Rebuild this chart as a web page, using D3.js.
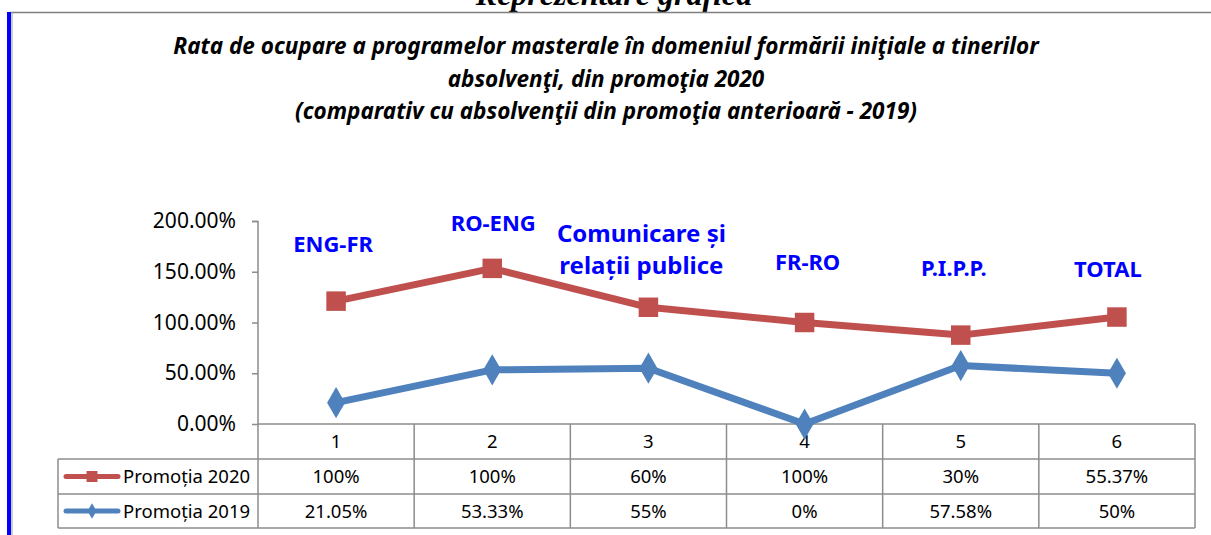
<!DOCTYPE html>
<head>
<meta charset="utf-8">
<script src="https://cdn.jsdelivr.net/npm/d3@7"></script>
<style>
body { margin: 0; background: #fff; }
text { font-family: "Noto Sans", "Open Sans", sans-serif; }
</style>
</head>
<body>
<script>
// data
var categories = ["1", "2", "3", "4", "5", "6"];
var programs = [["ENG-FR"], ["RO-ENG"], ["Comunicare și", "relații publice"], ["FR-RO"], ["P.I.P.P."], ["TOTAL"]];
var p2019 = [0.2105, 0.5333, 0.55, 0, 0.5758, 0.50];
var p2020 = [1.00, 1.00, 0.60, 1.00, 0.30, 0.5537];
var label2019 = ["21.05%", "53.33%", "55%", "0%", "57.58%", "50%"];
var label2020 = ["100%", "100%", "60%", "100%", "30%", "55.37%"];
var yTicks = [0, 0.5, 1, 1.5, 2];
var titleLines = ["Rata de ocupare a programelor masterale în domeniul formării iniţiale a tinerilor",
  "absolvenţi, din promoţia 2020",
  "(comparativ cu absolvenţii din promoţia anterioară - 2019)"];

var width = 1211, height = 535;
var red = "#C0504D", blue = "#4F81BD", grid = "#8c8c8c";

var svg = d3.select("body").append("svg")
  .attr("width", width)
  .attr("height", height);
svg.append("rect").attr("width", width).attr("height", height).attr("fill", "#fff");

// page decoration: cut heading, top rule, blue left bar
svg.append("text").attr("x", 614).attr("y", 5).attr("text-anchor", "middle")
  .style("font-family", "'Liberation Serif', serif").style("font-weight", "bold")
  .style("font-style", "italic").style("font-size", "32px")
  .text("Reprezentare grafică");
svg.append("line").attr("x1", 10).attr("x2", width).attr("y1", 12.5).attr("y2", 12.5)
  .attr("stroke", "#7f7f7f").attr("stroke-width", 1.5);
svg.append("rect").attr("x", 7).attr("y", 12).attr("width", 4).attr("height", height - 12).attr("fill", "#0000ff");
svg.append("line").attr("x1", 12).attr("x2", 12).attr("y1", 12).attr("y2", height)
  .attr("stroke", "#9a9a9a").attr("stroke-width", 1);

// chart title
svg.append("g").selectAll("text").data(titleLines).enter().append("text")
  .attr("x", 606).attr("y", function(d, i) { return 54 + i * 32.5; })
  .attr("text-anchor", "middle")
  .style("font-weight", "bold").style("font-style", "italic").style("font-size", "22.5px")
  .text(function(d) { return d; });

// scales
var x = d3.scaleBand().domain(categories).range([258, 1195]);
var y = d3.scaleLinear().domain([0, 2]).range([424, 221]);

// stacked line: 2020 sits on top of 2019
var rows = categories.map(function(c, i) { return {cat: c, p2019: p2019[i], p2020: p2020[i]}; });
var stacked = d3.stack().keys(["p2019", "p2020"])(rows);

// y axis
var yAxis = svg.append("g").attr("transform", "translate(258,0)")
  .call(d3.axisLeft(y).tickValues(yTicks).tickFormat(d3.format(".2%")).tickSize(6).tickPadding(16));
yAxis.select(".domain").attr("stroke", grid).attr("stroke-width", 1.5).attr("d", "M-6,221.5H0V424");
yAxis.selectAll(".tick line").attr("stroke", grid).attr("stroke-width", 1.5);
yAxis.selectAll(".tick text").attr("fill", "#000").style("font-size", "21px")
  .style("font-family", "'Noto Sans', sans-serif");

// data table
var tableLeft = 58, tableRight = 1195;
var rowY = [424, 459, 494, 528];
var tg = svg.append("g").attr("stroke", grid).attr("stroke-width", 1.5);
tg.append("line").attr("x1", 258).attr("x2", tableRight).attr("y1", rowY[0]).attr("y2", rowY[0]);
[1, 2, 3].forEach(function(r) {
  tg.append("line").attr("x1", tableLeft).attr("x2", tableRight).attr("y1", rowY[r]).attr("y2", rowY[r]);
});
tg.append("line").attr("x1", tableLeft).attr("x2", tableLeft).attr("y1", rowY[1]).attr("y2", rowY[3]);
tg.selectAll("line.col").data(categories).enter().append("line")
  .attr("x1", function(d) { return x(d); }).attr("x2", function(d) { return x(d); })
  .attr("y1", rowY[0]).attr("y2", rowY[3]);
tg.append("line").attr("x1", tableRight).attr("x2", tableRight).attr("y1", rowY[0]).attr("y2", rowY[3]);

var cellText = function(row, labels) {
  svg.append("g").selectAll("text").data(labels).enter().append("text")
    .attr("x", function(d, i) { return x(categories[i]) + x.bandwidth() / 2; })
    .attr("y", (rowY[row] + rowY[row + 1]) / 2 + 6.5)
    .attr("text-anchor", "middle").style("font-size", "18.5px")
    .text(function(d) { return d; });
};
cellText(0, categories);
cellText(1, label2020);
cellText(2, label2019);

// legend keys in table
var legend = [{name: "Promoția 2020", color: red, shape: d3.symbolSquare, size: 120, row: 1},
  {name: "Promoția 2019", color: blue, shape: d3.symbolDiamond, size: 70, row: 2}];
legend.forEach(function(l) {
  var cy = (rowY[l.row] + rowY[l.row + 1]) / 2;
  svg.append("line").attr("x1", 66).attr("x2", 118).attr("y1", cy).attr("y2", cy)
    .attr("stroke", l.color).attr("stroke-width", 5).attr("stroke-linecap", "round");
  svg.append("path").attr("d", d3.symbol().type(l.shape).size(l.size)())
    .attr("transform", "translate(92," + cy + ")").attr("fill", l.color);
  svg.append("text").attr("x", 123).attr("y", cy + 6.5).style("font-size", "18.5px").text(l.name);
});

// lines and markers
var cx = function(d) { return x(d.data.cat) + x.bandwidth() / 2; };
var line = d3.line().x(cx).y(function(d) { return y(d[1]); });
var series = [{s: stacked[1], color: red, shape: d3.symbolSquare, size: 380},
  {s: stacked[0], color: blue, shape: d3.symbolDiamond, size: 280}];
series.forEach(function(se) {
  svg.append("path").datum(se.s).attr("d", line).attr("fill", "none")
    .attr("stroke", se.color).attr("stroke-width", 7).attr("stroke-linejoin", "round");
  svg.append("g").selectAll("path").data(se.s).enter().append("path")
    .attr("d", d3.symbol().type(se.shape).size(se.size)())
    .attr("transform", function(d) { return "translate(" + cx(d) + "," + y(d[1]) + ")"; })
    .attr("fill", se.color);
});

// program names above the lines: [dx from column centre, baseline, font size]
var labelPos = [[-3, 252, 22], [1, 231, 22], [-7, 242, 24], [3, 270, 22], [-7, 276, 22], [-9, 277, 22]];
programs.forEach(function(p, i) {
  var lx = x(categories[i]) + x.bandwidth() / 2 + labelPos[i][0];
  var t = svg.append("text")
    .attr("x", lx).attr("y", labelPos[i][1])
    .attr("text-anchor", "middle").attr("fill", "#0000ff")
    .style("font-weight", "bold").style("font-size", labelPos[i][2] + "px");
  p.forEach(function(s, j) {
    t.append("tspan").attr("x", lx).attr("dy", j ? 32 : 0).text(s);
  });
});
</script>
</body>
